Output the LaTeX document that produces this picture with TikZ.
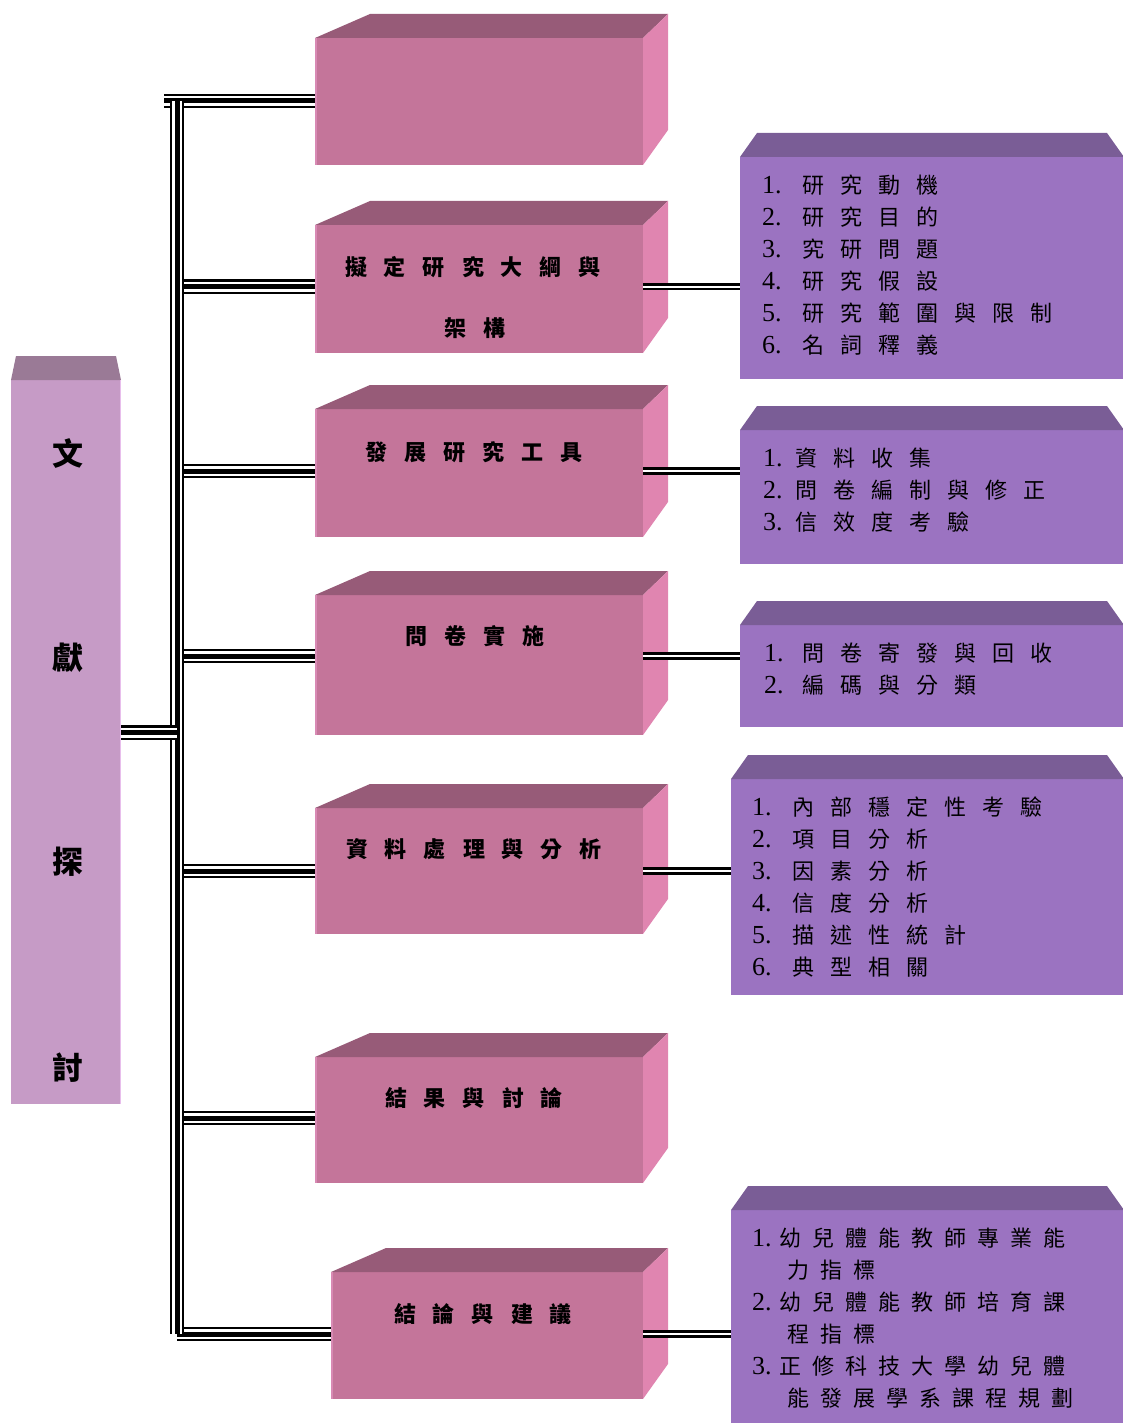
\documentclass[tikz,border=0pt]{standalone}
\usepackage{fontspec}
\usetikzlibrary{calc}
\newfontfamily\cjk{Noto Sans CJK TC}
\newfontfamily\numf{Liberation Serif}
\definecolor{pinkF}{RGB}{196,117,154}
\definecolor{pinkT}{RGB}{151,91,120}
\definecolor{pinkS}{RGB}{224,133,176}
\definecolor{pinkL}{RGB}{216,138,180}
\definecolor{lavF}{RGB}{198,155,198}
\definecolor{lavT}{RGB}{154,122,150}
\definecolor{lavE}{RGB}{232,190,236}
\definecolor{purF}{RGB}{155,115,193}
\definecolor{purT}{RGB}{122,93,150}
\makeatletter
\newcommand\trk[2]{\def\trk@sep{\hspace{#1}}\trk@a#2\relax}
\def\trk@a#1{\ifx\relax#1\else#1\expandafter\trk@b\fi}
\def\trk@b#1{\ifx\relax#1\else\trk@sep#1\expandafter\trk@b\fi}
\makeatother
\newcommand\nm[2]{\makebox[#1][l]{\numf\fontsize{26}{32}\selectfont #2}}
\newcommand\pinkbox[5]{%
  \node[pinkfront, minimum width=#4pt, minimum height=#5pt] (#1) at (#2,#3) {};
  \fill[pinkT] (#1.north west) -- ++(55,-24) -- ($(#1.north east)+(25,-24)$) -- (#1.north east) -- cycle;
  \fill[pinkS] (#1.north east) -- ++(25,-24) -- ($(#1.south east)+(25,-35)$) -- (#1.south east) -- cycle;
  \draw[pinkL, line width=1.5pt] ([xshift=0.75pt]#1.north west) -- ([xshift=0.75pt]#1.south west);
}
\newcommand\purbox[5]{%
  \node[purfront, minimum width=#4pt, minimum height=#5pt] (#1) at (#2,#3) {};
  \fill[purT] (#1.north west) -- ++(17,-24) -- ($(#1.north east)+(-17,-24)$) -- (#1.north east) -- cycle;
}
\begin{document}
\begin{tikzpicture}[x=1pt,y=-1pt,
  front/.style={anchor=north west, inner sep=0pt, outer sep=0pt, draw=none},
  pinkfront/.style={front, fill=pinkF},
  purfront/.style={front, fill=purF},
  lavfront/.style={front, fill=lavF},
  plabel/.style={inner sep=0pt, font=\cjk\bfseries\fontsize{22}{22}\selectfont},
  llabel/.style={inner sep=0pt, font=\cjk\bfseries\fontsize{31}{31}\selectfont},
  ptext/.style={anchor=north west, inner sep=0pt, align=left, font=\cjk\fontsize{22}{32}\selectfont},
  trip/.style={draw=black, line width=14.5pt, postaction={draw=white, line width=10pt}, postaction={draw=black, line width=5pt}},
  dbl/.style={draw=black, line width=2.7pt, double=white, double distance=2pt}]
\useasboundingbox (0,0) rectangle (1122,1423);

% left box
\node[lavfront, minimum width=110pt, minimum height=724pt] (L) at (11,380) {};
\fill[lavT] (L.north west) -- ++(5,-24) -- ($(L.north east)+(-5,-24)$) -- (L.north east) -- cycle;
\draw[lavE, line width=1.5pt] ([xshift=-0.75pt]L.north east) -- ([xshift=-0.75pt]L.south east);
\node[llabel] (L1) at (68,453) {文};
\node[llabel] (L2) at (68,658) {獻};
\node[llabel] (L3) at (68,862) {探};
\node[llabel] (L4) at (68,1068) {討};

% pink boxes
\pinkbox{p1}{315}{38}{328}{127}
\pinkbox{p2}{315}{225}{328}{128}
\pinkbox{p3}{315}{409}{328}{128}
\pinkbox{p4}{315}{595}{328}{140}
\pinkbox{p5}{315}{808}{328}{126}
\pinkbox{p6}{315}{1057}{328}{126}
\pinkbox{p7}{331}{1272}{312}{127}

\node[plabel] (l2a) at (473,267) {\trk{17pt}{擬定研究大綱與}};
\node[plabel] (l2b) at (475,328) {\trk{17pt}{架構}};
\node[plabel] (l3) at (474,452) {\trk{17pt}{發展研究工具}};
\node[plabel] (l4) at (475,636) {\trk{17pt}{問卷實施}};
\node[plabel] (l5) at (474,849) {\trk{17pt}{資料處理與分析}};
\node[plabel] (l6) at (474,1098) {\trk{17pt}{結果與討論}};
\node[plabel] (l7) at (483,1314) {\trk{17pt}{結論與建議}};

% purple boxes
\purbox{qA}{740}{157}{384}{222}
\purbox{qB}{740}{430}{384}{134}
\purbox{qC}{740}{625}{384}{102}
\purbox{qD}{731}{779}{393}{216}
\purbox{qE}{731}{1210}{393}{230}

\node[ptext] (tA) at (762,175) {%
\nm{40pt}{1.}\trk{16pt}{研究動機}\\
\nm{40pt}{2.}\trk{16pt}{研究目的}\\
\nm{40pt}{3.}\trk{16pt}{究研問題}\\
\nm{40pt}{4.}\trk{16pt}{研究假設}\\
\nm{40pt}{5.}\trk{16pt}{研究範圍與限制}\\
\nm{40pt}{6.}\trk{16pt}{名詞釋義}};
\node[ptext] (tB) at (763,448) {%
\nm{32pt}{1.}\trk{16pt}{資料收集}\\
\nm{32pt}{2.}\trk{16pt}{問卷編制與修正}\\
\nm{32pt}{3.}\trk{16pt}{信效度考驗}};
\node[ptext] (tC) at (764,643) {%
\nm{38pt}{1.}\trk{16pt}{問卷寄發與回收}\\
\nm{38pt}{2.}\trk{16pt}{編碼與分類}};
\node[ptext] (tD) at (752,797) {%
\nm{40pt}{1.}\trk{16pt}{內部穩定性考驗}\\
\nm{40pt}{2.}\trk{16pt}{項目分析}\\
\nm{40pt}{3.}\trk{16pt}{因素分析}\\
\nm{40pt}{4.}\trk{16pt}{信度分析}\\
\nm{40pt}{5.}\trk{16pt}{描述性統計}\\
\nm{40pt}{6.}\trk{16pt}{典型相關}};
\node[ptext] (tE) at (752,1228) {%
\nm{27pt}{1.}\trk{11pt}{幼兒體能教師專業能}\\
\hspace*{35pt}\trk{11pt}{力指標}\\
\nm{27pt}{2.}\trk{11pt}{幼兒體能教師培育課}\\
\hspace*{35pt}\trk{11pt}{程指標}\\
\nm{27pt}{3.}\trk{11pt}{正修科技大學幼兒體}\\
\hspace*{35pt}\trk{11pt}{能發展學系課程規劃}};

% bus junctions
\coordinate (j0) at (164,101);
\coordinate (j1) at (177,101);
\coordinate (j2) at (177,286.5);
\coordinate (j3) at (177,471);
\coordinate (j4) at (177,656);
\coordinate (j5) at (177,871);
\coordinate (j6) at (177,1118);
\coordinate (j7) at (177,1334);
\coordinate (jL) at (177,732.5);

% branches
\draw[trip] (j0) -- (j0 -| p1.west);
\draw[trip] (j2) -- (j2 -| p2.west);
\draw[trip] (j3) -- (j3 -| p3.west);
\draw[trip] (j4) -- (j4 -| p4.west);
\draw[trip] (j5) -- (j5 -| p5.west);
\draw[trip] (j6) -- (j6 -| p6.west);
\draw[trip] (j7) -- (j7 -| p7.west);
% bus
\draw[trip] (j1) -- (j7);
\draw[trip] (jL -| L.east) -- (jL);

% right connectors
\draw[dbl] (j2 -| p2.east) -- (j2 -| qA.west);
\draw[dbl] (j3 -| p3.east) -- (j3 -| qB.west);
\draw[dbl] (j4 -| p4.east) -- (j4 -| qC.west);
\draw[dbl] (j5 -| p5.east) -- (j5 -| qD.west);
\draw[dbl] (j7 -| p7.east) -- (j7 -| qE.west);
\end{tikzpicture}
\end{document}
